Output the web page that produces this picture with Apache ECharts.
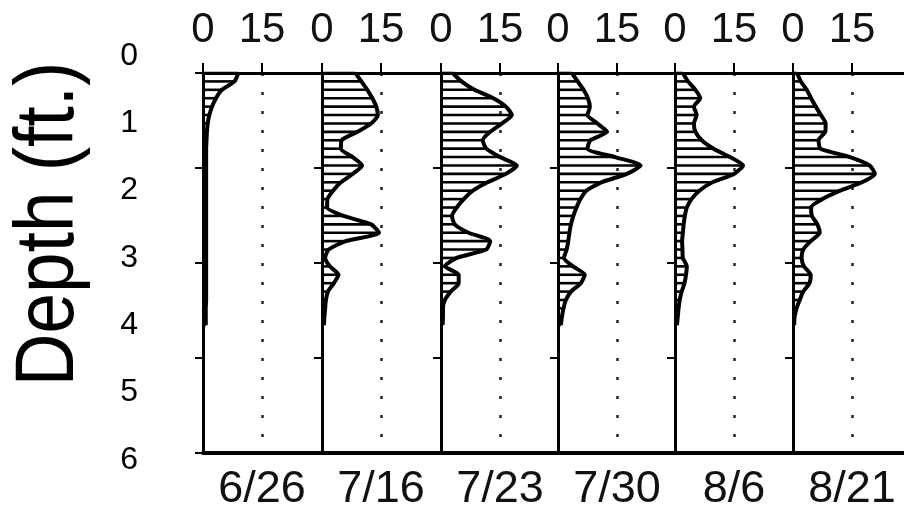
<!DOCTYPE html>
<html>
<head>
<meta charset="utf-8">
<script src="https://cdn.jsdelivr.net/npm/echarts@6/dist/echarts.min.js"></script>
<style>
  html, body { margin: 0; padding: 0; background: #fff; }
  #chart { width: 904px; height: 511px; }
</style>
</head>
<body>
<div id="chart"></div>
<script>
// ---------- DATA ----------
const dates = ['6/26', '7/16', '7/23', '7/30', '8/6', '8/21'];
const depthTicks = [0, 1, 2, 3, 4, 5, 6];
const xTickLabels = [0, 15];
const depths = [0.25, 0.375, 0.5, 0.625, 0.75, 0.875, 1.0, 1.125, 1.25, 1.375, 1.5, 1.625, 1.75, 1.875,
  2.0, 2.125, 2.25, 2.375, 2.5, 2.625, 2.75, 2.875, 3.0, 3.125, 3.25, 3.375, 3.5, 3.625, 3.75, 3.875, 4.0];

const v0626 = [9, 8, 4.8, 3.3, 2.3, 1.6, 1.2, 1.0, 0.9, 0.8, 0.8, 0.8, 0.8, 0.8,
  0.8, 0.8, 0.8, 0.8, 0.8, 0.8, 0.8, 0.8, 0.8, 0.8, 0.8, 0.8, 0.8, 0.8, 0.7, 0.7, 0.7];
const v0716 = [8.5, 10, 11.5, 12.8, 13.8, 14.2, 12.5, 9, 5, 4.8, 7.8, 10.2, 7.8, 4.8,
  2.8, 1.4, 1.3, 5.5, 12.5, 14.5, 6, 1.7, 0.8, 2, 4.2, 3, 1.5, 1, 0.8, 0.6, 0.5];
const v0723 = [3, 5.2, 8.5, 13.3, 16.5, 18, 15.5, 12.5, 10.6, 11.5, 15, 19.3, 16.5, 11.8,
  8.1, 5.8, 4, 2.8, 3.5, 7, 12.5, 11.5, 4, 1, 4.5, 4.5, 2.5, 1, 0.5, 0.5, 0.4];
const v0730 = [3.5, 5, 6.5, 7.6, 8.1, 7.5, 10, 12.5, 8.2, 7.5, 14.5, 21, 17.5, 11,
  7.2, 5.7, 4.7, 3.9, 3.3, 2.9, 2.6, 2.2, 1.5, 3.8, 6.8, 5.8, 3.3, 2, 1.4, 1, 0.7];
const v0806 = [2, 3.3, 5.2, 6.4, 4.8, 5.5, 4.8, 5.2, 6.8, 9.8, 14, 17.3, 15, 9.5,
  6.2, 4.2, 3, 2.5, 2.2, 2, 1.8, 1.9, 2, 3, 2.8, 2.4, 1.7, 1.2, 0.9, 0.7, 0.5];
const v0821 = [1, 2, 3.5, 4.6, 5.8, 7.1, 8.3, 8.2, 6.5, 7, 14.5, 19.5, 20.8, 17.5,
  12, 7.5, 4.6, 4.8, 6.2, 6.8, 4.5, 2.6, 2.2, 2.8, 4.5, 4.2, 2.6, 1.7, 0.9, 0.4, 0.3];
const profiles = [v0626, v0716, v0723, v0730, v0806, v0821];

// ---------- LAYOUT ----------
const FONT = "'Liberation Sans', Arial, Helvetica, sans-serif";
const panelLefts = [203, 322, 441, 558, 675, 793];
const panelWidth = 118;
const gridTop = 73, gridBottom = 58;
const depthMin = 0.25, depthMax = 5.9;
const panelTicks = [0.25, 1.6625, 3.075, 4.4875, 5.9];

const grids = [], xAxes = [], yAxes = [], series = [];
panelLefts.forEach((left) => {
  grids.push({ left: left, width: panelWidth, top: gridTop, bottom: gridBottom,
    containLabel: false, outerBoundsMode: 'none' });
});
grids.push({ left: 140, width: 10, top: 56, bottom: 51, containLabel: false, outerBoundsMode: 'none' });

panelLefts.forEach((_, i) => {
  xAxes.push({
    type: 'value', gridIndex: i, position: 'top', min: 0, max: 30, interval: 15,
    axisLine: { show: true, onZero: false, lineStyle: { color: '#000', width: 3 } },
    axisTick: { show: true, length: 10, lineStyle: { color: '#000', width: 2 },
      customValues: xTickLabels },
    axisLabel: { show: true, margin: 22, fontSize: 42, fontFamily: FONT, color: '#111',
      customValues: xTickLabels },
    splitLine: { show: true, lineStyle: { color: '#222', width: 2.5, type: [3, 16] } }
  });
});
panelLefts.forEach((_, i) => {
  xAxes.push({
    type: 'value', gridIndex: i, position: 'bottom', min: 0, max: 30,
    axisLine: { show: true, onZero: false, lineStyle: { color: '#000', width: 4 } },
    axisTick: { show: false }, axisLabel: { show: false }, splitLine: { show: false },
    name: dates[i], nameLocation: 'middle', nameGap: 14,
    nameTextStyle: { fontSize: 45, fontFamily: FONT, color: '#111' }
  });
});
xAxes.push({ type: 'value', gridIndex: 6, show: false, min: 0, max: 1 });

panelLefts.forEach((_, i) => {
  yAxes.push({
    type: 'value', gridIndex: i, inverse: true, min: depthMin, max: depthMax,
    axisLine: { show: true, onZero: false, lineStyle: { color: '#000', width: 3 } },
    axisTick: { show: true, length: 8, lineStyle: { color: '#000', width: 2 }, customValues: panelTicks },
    axisLabel: { show: false }, splitLine: { show: false }
  });
});
yAxes.push({
  type: 'value', gridIndex: 6, inverse: true, min: 0, max: 6, interval: 1,
  axisLine: { show: false }, axisTick: { show: false }, splitLine: { show: false },
  axisLabel: { show: true, margin: 2, fontSize: 32, fontFamily: FONT, color: '#000',
    formatter: v => String(v), customValues: depthTicks }
});

profiles.forEach((vals, i) => {
  const pts = depths.map((d, k) => [vals[k], d]);
  series.push({
    type: 'custom', xAxisIndex: i, yAxisIndex: i, data: pts, silent: true, clip: false,
    renderItem: (params, api) => {
      const d = api.value(1);
      const p0 = api.coord([0, d]);
      const p1 = api.coord([api.value(0), d]);
      return { type: 'line', shape: { x1: p0[0], y1: p0[1], x2: p1[0], y2: p1[1] },
        style: { stroke: '#000', lineWidth: 2.6 } };
    }
  });
  series.push({
    type: 'line', xAxisIndex: i, yAxisIndex: i, data: pts, showSymbol: false, silent: true,
    smooth: 0.2, lineStyle: { color: '#000', width: 4 }, animation: false
  });
});

const chart = echarts.init(document.getElementById('chart'), null, { renderer: 'canvas' });
chart.setOption({
  animation: false,
  backgroundColor: '#fff',
  grid: grids,
  xAxis: xAxes,
  yAxis: yAxes,
  series: series,
  graphic: [{
    type: 'text', x: 50, y: 224, rotation: Math.PI / 2, scaleY: 1.15,
    style: { text: 'Depth (ft.)', font: '73px ' + FONT, fill: '#000',
      textAlign: 'center', textVerticalAlign: 'middle' }
  }]
});
</script>
</body>
</html>
